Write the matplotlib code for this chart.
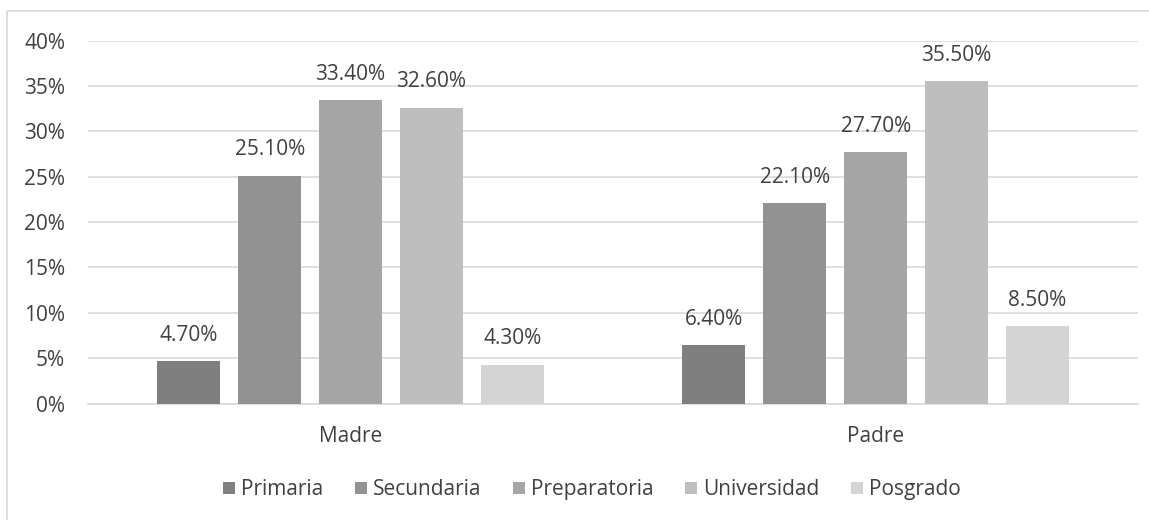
import matplotlib.pyplot as plt
import matplotlib.lines as mlines
import numpy as np

plt.rcParams['font.family'] = ['Open Sans', 'DejaVu Sans']

groups = ["Madre", "Padre"]
levels = ["Primaria", "Secundaria", "Preparatoria", "Universidad", "Posgrado"]
madre = [4.7, 25.1, 33.4, 32.6, 4.3]
padre = [6.4, 22.1, 27.7, 35.5, 8.5]
colors = ["#7f7f7f", "#929292", "#a5a5a5", "#bebebe", "#d4d4d4"]
yticks = [0, 5, 10, 15, 20, 25, 30, 35, 40]

fig = plt.figure(figsize=(11.49, 5.2), dpi=100)
ax = fig.add_axes([0.0766, 0.224, 0.914, 0.698])

# chart border (only top and left edges are inside the crop)
fig.lines.append(mlines.Line2D([0.006, 0.006, 1.0], [0.0, 0.979, 0.979],
                               transform=fig.transFigure, color="#d9d9d9", linewidth=1.2))

x = np.arange(len(groups))
width = 0.12
step = 0.154
txt = "#404040"
for i, lvl in enumerate(levels):
    vals = [madre[i], padre[i]]
    pos = x + (i - 2) * step
    ax.bar(pos, vals, width, color=colors[i], label=lvl, zorder=3)
    for p, v in zip(pos, vals):
        ax.annotate(f"{v:.2f}%", (p, v), xytext=(0, 11), textcoords="offset points",
                    ha="center", va="bottom", fontsize=15, color=txt)

ax.set_xlim(-0.5, 1.5)
ax.set_ylim(0, 40)
ax.set_yticks(yticks)
ax.set_yticklabels([f"{t}%" for t in yticks])
ax.set_xticks(x)
ax.set_xticklabels(groups)
ax.tick_params(axis="both", length=0, labelsize=15, colors=txt)
ax.tick_params(axis="x", pad=16)
ax.tick_params(axis="y", pad=16.5)
ax.grid(axis="y", color="#d9d9d9", linewidth=1.2, zorder=0)
for s in ["top", "right", "left"]:
    ax.spines[s].set_visible(False)
ax.spines["bottom"].set_color("#d9d9d9")
ax.spines["bottom"].set_linewidth(1.2)

leg = fig.legend(loc="center", bbox_to_anchor=(0.515, 0.058), ncol=5, frameon=False,
                 fontsize=15, handlelength=0.58, handleheight=0.58, handletextpad=0.3,
                 columnspacing=1.5)
for t in leg.get_texts():
    t.set_color(txt)

fig.savefig("out.png", dpi=100)
